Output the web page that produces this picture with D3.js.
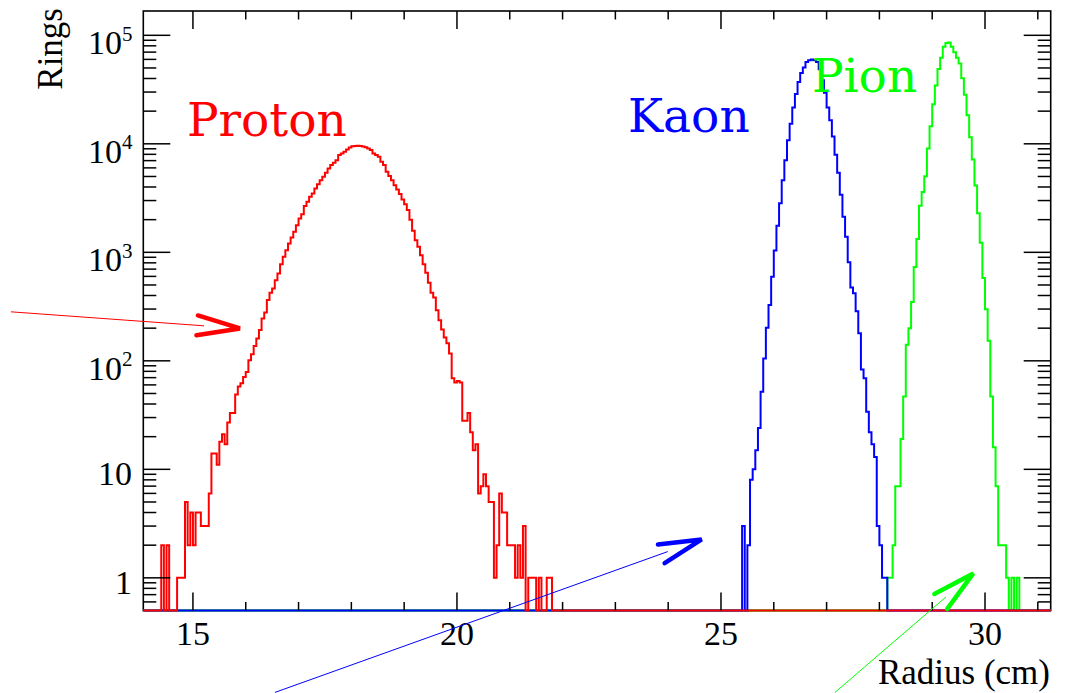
<!DOCTYPE html>
<html><head><meta charset="utf-8">
<script src="https://cdn.jsdelivr.net/npm/d3@7/dist/d3.min.js"></script>
<style>
html,body{margin:0;padding:0;background:#fff;}
svg{display:block;}
</style></head><body>
<svg id="chart" width="1075" height="693"></svg>
<script>
// ---------------- data (bin width 0.05 cm) ----------------
const binWidth = 0.05;
const protonStart = 14.40;
const protonCounts = [2,0,2,0,0,0,1,1,1,5, 2,4,2,4,4,3,3,3,6,14, 14,11,18,21,17,27,33,33,49,58,
  62,71,79,101,115,137,161,192,246,279, 363,424,465,554,639,778,908,1047,1207,1371,
  1545,1780,2052,2249,2666,2920,3250,3490,3880,4250, 4620,4960,5400,5930,6370,6680,7070,7870,8160,8440,
  8880,9270,9520,9560,9600,9560,9450,9300,9070,8750, 8160,7900,7590,6820,6370,5520,5040,4620,4160,3800,
  3440,3070,2780,2450,2000,1580,1295,1125,942,778, 647,524,424,384,293,237,194,164,145,117,
  69,63,65,63,28,28,33,22,15,17, 6,7,9,7,5,5,1,2,6,4, 4,2,2,2,1,2,1,3,0,1, 1,1,0,1,0,0,1,1];
const kaonStart = 25.40;
const kaonCounts = [3,0,2,8,10,15,24,52,105,202, 327,597,1042,1757,2839,4617,7060,10800,15300,21600,
  28800,37200,45000,50600,56900,59000,60000,59000,56900,48700, 38600,29500,21600,16500,11700,7940,5400,3390,2130,1395,
  812,473,420,287,180,83,69,34,22,17, 13,3,2,1,1,0];
const pionStart = 28.15;
const pionCounts = [1,1,2,7,7,19,47,141,200,348,734, 1325,2685,3600,5020,9040,14500,23200,34400,49000,62000,
  78500,85000,86000,78500,69700,62000,55100,40200,28300,18300, 11500,7160,4130,2290,1225,580,298,153,47,16,
  7,2,2,2,1,0,1,0,1];

const xTicksMajor = [15, 20, 25, 30];
const xTickLabels = ["15", "20", "25", "30"];
const yTicksMajor = [1, 10, 100, 1000, 10000, 100000];
const yTickExponents = [0, 1, 2, 3, 4, 5];
const xDomain = [14.06, 31.244];
const yDomain = [0.5, 1.675e5];
const xTitle = "Radius (cm)";
const yTitle = "Rings";

// annotations in data coordinates [cm, rings]
const particleLabels = [
  {text: "Proton", cm: 14.886, rings: 11780, color: "#ff0000"},
  {text: "Kaon",   cm: 23.239, rings: 12900, color: "#0000ff"},
  {text: "Pion",   cm: 26.723, rings: 30140, color: "#00ff00"}
];
const arrows = [
  {tail: [11.553, 282.9], tip: [15.890, 198.9], color: "#ff0000"},
  {tail: [16.553, 0.0879], tip: [24.634, 2.259], color: "#0000ff"},
  {tail: [27.159, 0.0879], tip: [29.778, 1.098], color: "#00ff00"}
];

// ---------------- layout ----------------
const plot = {left: 143.3, right: 1050.7, top: 11, bottom: 610.5};
const svg = d3.select("#chart");
svg.append("rect").attr("width", 1075).attr("height", 693).attr("fill", "#fff");

const x = d3.scaleLinear().domain(xDomain).range([plot.left, plot.right]);
const y = d3.scaleLog().domain(yDomain).range([plot.bottom, plot.top]);

// frame
svg.append("rect")
  .attr("x", plot.left).attr("y", plot.top)
  .attr("width", plot.right - plot.left).attr("height", plot.bottom - plot.top)
  .attr("fill", "none").attr("stroke", "#000").attr("stroke-width", 1.6);

svg.append("clipPath").attr("id", "clip").append("rect")
  .attr("x", plot.left).attr("y", plot.top)
  .attr("width", plot.right - plot.left).attr("height", plot.bottom - plot.top + 1.5);

function histPath(start, counts) {
  const k0 = Math.round(start / binWidth);
  const kMin = Math.floor(xDomain[0] / binWidth);
  const kMax = Math.ceil(xDomain[1] / binWidth);
  let d = `M${x(kMin * binWidth)},${y(yDomain[0])}`;
  for (let k = kMin; k < kMax; k++) {
    const i = k - k0;
    const v = (i >= 0 && i < counts.length) ? counts[i] : 0;
    d += `V${y(Math.max(v, yDomain[0]))}H${x((k + 1) * binWidth)}`;
  }
  return d;
}

const hg = svg.append("g").attr("clip-path", "url(#clip)");
[[pionStart, pionCounts, "#00ff00"], [kaonStart, kaonCounts, "#0000ff"], [protonStart, protonCounts, "#ff0000"]]
  .forEach(([s, c, col]) => {
    hg.append("path").attr("d", histPath(s, c)).attr("fill", "none")
      .attr("stroke", col).attr("stroke-width", 2).attr("stroke-linejoin", "miter");
  });

// ticks
const tg = svg.append("g").attr("stroke", "#000").attr("stroke-width", 1.5);
const xMinor = d3.range(15, 32).filter(v => !xTicksMajor.includes(v) && v <= xDomain[1]);
function xTick(v, len) {
  tg.append("line").attr("x1", x(v)).attr("x2", x(v)).attr("y1", plot.bottom).attr("y2", plot.bottom - len);
  tg.append("line").attr("x1", x(v)).attr("x2", x(v)).attr("y1", plot.top).attr("y2", plot.top + len);
}
xTicksMajor.forEach(v => xTick(v, 18));
xMinor.forEach(v => xTick(v, 8.5));

const yMinor = [];
for (let e = -1; e <= 5; e++) for (let m = 2; m <= 9; m++) {
  const v = m * Math.pow(10, e);
  if (v > yDomain[0] && v < yDomain[1]) yMinor.push(v);
}
function yTick(v, len) {
  tg.append("line").attr("y1", y(v)).attr("y2", y(v)).attr("x1", plot.left).attr("x2", plot.left + len);
  tg.append("line").attr("y1", y(v)).attr("y2", y(v)).attr("x1", plot.right).attr("x2", plot.right - len);
}
yTicksMajor.forEach(v => yTick(v, 27));
yMinor.forEach(v => yTick(v, 13));

// tick labels
const font = "'Liberation Serif', 'Times New Roman', serif";
const lg = svg.append("g").attr("font-family", font).attr("fill", "#000");
xTicksMajor.forEach((v, i) => {
  lg.append("text").attr("x", x(v)).attr("y", 645).attr("text-anchor", "middle")
    .attr("font-size", 34).text(xTickLabels[i]);
});
yTicksMajor.forEach((v, i) => {
  const e = yTickExponents[i];
  const ty = y(v);
  if (e <= 1) {
    lg.append("text").attr("x", 132).attr("y", ty + 16).attr("text-anchor", "end")
      .attr("font-size", 34).text(e === 0 ? "1" : "10");
  } else {
    lg.append("text").attr("x", 122).attr("y", ty + 19).attr("text-anchor", "end")
      .attr("font-size", 34).text("10");
    lg.append("text").attr("x", 122).attr("y", ty + 5.5).attr("text-anchor", "start")
      .attr("font-size", 21).text(String(e));
  }
});

// axis titles
lg.append("text").attr("x", 1050).attr("y", 684).attr("text-anchor", "end")
  .attr("font-size", 35).text(xTitle);
lg.append("text").attr("transform", "translate(61.5,8) rotate(-90)").attr("text-anchor", "end")
  .attr("font-size", 35).text(yTitle);

// particle labels
particleLabels.forEach(l => {
  svg.append("text").attr("x", x(l.cm)).attr("y", y(l.rings))
    .attr("font-family", "'DejaVu Serif', serif").attr("font-size", 47)
    .attr("fill", l.color).text(l.text);
});

// arrows
arrows.forEach(a => {
  const tx = x(a.tail[0]), ty = y(a.tail[1]);
  const px = x(a.tip[0]), py = y(a.tip[1]);
  const ang = Math.atan2(ty - py, tx - px);
  const L = Math.hypot(tx - px, ty - py);
  const sx = px + Math.cos(ang) * 36, sy = py + Math.sin(ang) * 36;
  svg.append("line").attr("x1", tx).attr("y1", ty).attr("x2", sx).attr("y2", sy)
    .attr("stroke", a.color).attr("stroke-width", 1);
  const half = 13 * Math.PI / 180, arm = 44;
  const p1 = [px + Math.cos(ang + half) * arm, py + Math.sin(ang + half) * arm];
  const p2 = [px + Math.cos(ang - half) * arm, py + Math.sin(ang - half) * arm];
  svg.append("path").attr("d", `M${p1[0]},${p1[1]}L${px},${py}L${p2[0]},${p2[1]}`)
    .attr("fill", "none").attr("stroke", a.color).attr("stroke-width", 4.5)
    .attr("stroke-linecap", "round").attr("stroke-linejoin", "miter");
});
</script>
</body></html>
